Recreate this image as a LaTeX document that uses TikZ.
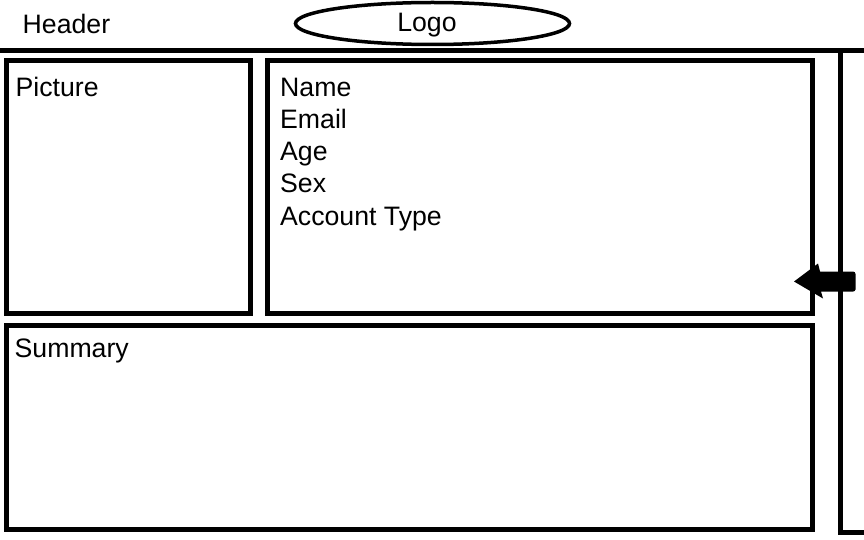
\documentclass[tikz,border=0pt]{standalone}
\usepackage{fontspec}
\setmainfont{Liberation Sans}
\usetikzlibrary{shapes.geometric}
\begin{document}
\begin{tikzpicture}[x=1pt,y=-1pt,
  panel/.style={draw, line width=5pt, rectangle, inner sep=0pt, outer sep=0pt, anchor=north west},
  rule/.style={line width=5pt},
  lbl/.style={font=\fontsize{26.67}{32}\selectfont, inner sep=0pt, anchor=base west},
  logoshape/.style={draw, ellipse, line width=3.5pt, inner sep=0pt, outer sep=0pt,
    minimum width=274pt, minimum height=42pt}]
  \useasboundingbox (0,0) rectangle (864,540);

  % header band
  \node[lbl] (header) at (22.5,34) {Header};
  \node[logoshape] (logo) at (432.5,23.5) {};
  \node[lbl, anchor=base] (logotext) at (427,32) {Logo};
  \coordinate (ruleL) at (0,50.5);
  \coordinate (ruleR) at (864,50.5);
  \draw[rule] (ruleL) -- (ruleR);

  % content panels
  \node[panel, minimum width=244pt, minimum height=252.5pt] (picture) at (6.5,60.5) {};
  \node[panel, minimum width=545pt, minimum height=252.5pt] (details) at (267.5,60.5) {};
  \node[panel, minimum width=806pt, minimum height=204pt] (summary) at (6.5,325.5) {};

  \node[lbl] (picturelbl) at (15.5,96.5) {Picture};
  \node[lbl] (name)  at (280,97)  {Name};
  \node[lbl] (email) at (280,129) {Email};
  \node[lbl] (age)   at (280,161) {Age};
  \node[lbl] (sex)   at (280,193) {Sex};
  \node[lbl] (acct)  at (280,225) {Account Type};
  \node[lbl] (summarylbl) at (14.5,357) {Summary};

  % collapsed side bar
  \coordinate (barTop) at (840.5,50.5);
  \coordinate (barBot) at (840.5,532.5);
  \coordinate (barEnd) at (864,532.5);
  \draw[rule, line join=miter] (barTop) -- (barBot) -- (barEnd);

  % expand arrow
  \fill (794,281.5) -- (818,263.5) -- (820,271.5) -- (853,271.5)
        to[out=0,in=90] (855.5,274) -- (855.5,289.5) to[out=-90,in=0] (853,291.5)
        -- (821,291.5) -- (823,298.5) -- cycle;
\end{tikzpicture}
\end{document}
